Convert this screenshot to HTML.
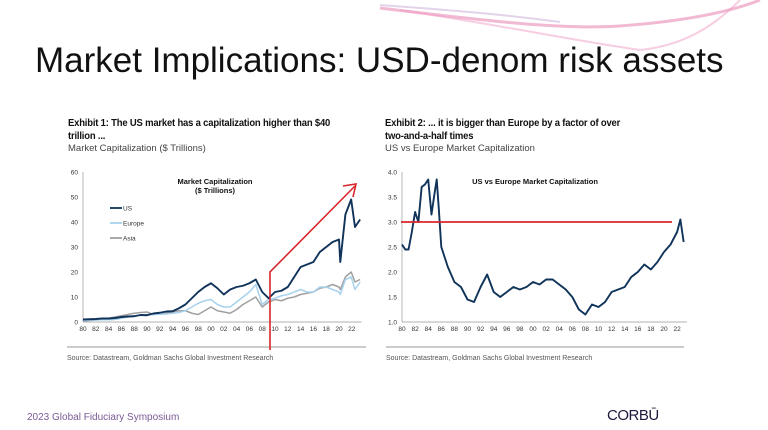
<!DOCTYPE html>
<html><head><meta charset="utf-8">
<style>
body{margin:0;width:768px;height:430px;overflow:hidden;background:#fff;font-family:"Liberation Sans",sans-serif;position:relative}
.abs{position:absolute}
.h{font-family:"Liberation Sans",sans-serif;font-weight:bold;font-size:10.5px;color:#111;line-height:13px;letter-spacing:-0.2px;white-space:nowrap;transform:scaleX(0.9);transform-origin:0 0}
.sub{font-size:9.5px;color:#444;font-family:"Liberation Sans",sans-serif}
.src{font-size:7px;color:#555;font-family:"Liberation Sans",sans-serif}
</style></head><body>
<svg class="abs" style="left:0;top:0" width="768" height="70">
<path d="M380,8 C480,20 560,30 620,26 C700,20 740,8 760,0" stroke="#e98bb6" stroke-width="3" fill="none" opacity="0.6"/>
<path d="M400,10 C500,25 570,40 640,50 C690,45 720,20 740,0" stroke="#ef9cc3" stroke-width="2" fill="none" opacity="0.5"/>
<path d="M380,5 C450,10 500,14 560,22" stroke="#c7a8d6" stroke-width="2" fill="none" opacity="0.5"/>
</svg>
<div class="abs" style="left:35px;top:41px;font-size:35px;color:#111;white-space:nowrap">Market Implications: USD-denom risk assets</div>
<div class="abs h" style="left:68px;top:117px">Exhibit 1: The US market has a capitalization higher than $40<br>trillion ...</div>
<div class="abs sub" style="left:68px;top:143px">Market Capitalization ($ Trillions)</div>
<div class="abs h" style="left:385px;top:117px">Exhibit 2: ... it is bigger than Europe by a factor of over<br>two-and-a-half times</div>
<div class="abs sub" style="left:385px;top:143px">US vs Europe Market Capitalization</div>
<div class="abs" style="left:67px;top:346px;width:299px;height:2px;background:#ccc"></div>
<div class="abs" style="left:386px;top:346px;width:298px;height:2px;background:#ccc"></div>
<div class="abs src" style="left:67px;top:355px">Source: Datastream, Goldman Sachs Global Investment Research</div>
<div class="abs src" style="left:386px;top:355px">Source: Datastream, Goldman Sachs Global Investment Research</div>
<div class="abs" style="left:27px;top:412px;font-size:10px;color:#7a5a96">2023 Global Fiduciary Symposium</div>
<div class="abs" style="left:607px;top:407px;font-size:15px;color:#1d1a3d;letter-spacing:-0.5px">CORBŪ</div>
<svg id="c1" class="abs" style="left:0;top:0" width="768" height="430"></svg>
<script>
const years=[1980,1981,1982,1983,1984,1985,1986,1987,1988,1989,1990,1991,1992,1993,1994,1995,1996,1997,1998,1999,2000,2001,2002,2003,2004,2005,2006,2007,2008,2009,2010,2011,2012,2013,2014,2015,2016,2017,2018,2019,2020,2020.2,2021,2021.9,2022.5,2023.3];
const usVals=[1,1.1,1.2,1.4,1.4,1.6,2,2.2,2.3,2.8,2.7,3.4,3.7,4.2,4.3,5.5,7,9.5,12,14,15.5,13.5,11,13,14,14.5,15.5,17,12,9.5,12,12.5,14,18,22,23,24,28,30,32,33,24,43,49,38,41];
const euVals=[0.6,0.7,0.8,0.9,0.9,1,1.5,2,2.5,2.8,3,3,3.1,3.2,3.5,3.8,4.5,6,7.5,8.5,9,7,6,6,8,10,12,15,7,9,9.5,10.5,11,12,13,12,12,14,14,13,12,11,17,18,13,16];
const asVals=[0.4,0.6,0.8,1,1.5,2,2.5,3,3.5,3.8,4,3,3.3,3.5,4,4.5,4.5,3.5,3,4.5,6,4.5,4,3.5,5,7,8.5,10,6,8,9,8.5,9.5,10,11,11.5,12,13.5,14,15,14,13,18,20,16,17];
const rYears=[1980,1980.5,1981,1981.5,1982,1982.5,1983,1983.5,1984,1984.5,1985,1985.3,1985.6,1986,1986.5,1987,1988,1989,1990,1991,1992,1993,1994,1995,1996,1997,1998,1999,2000,2001,2002,2003,2004,2005,2006,2007,2008,2009,2010,2011,2012,2013,2014,2015,2016,2017,2018,2019,2020,2021,2022,2022.5,2023];
const ratioVals=[2.55,2.45,2.45,2.8,3.2,3.0,3.7,3.75,3.85,3.15,3.6,3.85,3.3,2.5,2.3,2.1,1.8,1.7,1.45,1.4,1.7,1.95,1.6,1.5,1.6,1.7,1.65,1.7,1.8,1.75,1.85,1.85,1.75,1.65,1.5,1.25,1.15,1.35,1.3,1.4,1.6,1.65,1.7,1.9,2.0,2.15,2.05,2.2,2.4,2.55,2.8,3.05,2.6];
const xTicks=['80','82','84','86','88','90','92','94','96','98','00','02','04','06','08','10','12','14','16','18','20','22'];
const y1Ticks=[0,10,20,30,40,50,60];
const y2Ticks=[1.0,1.5,2.0,2.5,3.0,3.5,4.0];
const NS='http://www.w3.org/2000/svg';
const svg=document.getElementById('c1');
function mk(t,a,txt){const e=document.createElementNS(NS,t);for(const k in a)e.setAttribute(k,a[k]);if(txt!==undefined)e.textContent=txt;svg.appendChild(e);return e;}
function chart(x0,xPer,yTop,yBot,vmin,vmax,yt,dec){
 const X=y=>x0+(y-1980)*xPer, Y=v=>yBot-(v-vmin)/(vmax-vmin)*(yBot-yTop);
 let ax=mk('line',{x1:x0,y1:yTop,x2:x0,y2:yBot,stroke:'#999','stroke-width':0.7});
 
 let bx=mk('line',{x1:x0,y1:yBot,x2:X(2023.5),y2:yBot,stroke:'#999','stroke-width':0.7});
 
 yt.forEach(v=>{let t=mk('text',{x:x0-5,y:Y(v)+2.5,'font-size':6.5,fill:'#333','text-anchor':'end'},dec?v.toFixed(1):v);
  });
 xTicks.forEach((l,i)=>{let t=mk('text',{x:X(1980+2*i),y:yBot+9,'font-size':6.5,fill:'#333','text-anchor':'middle'},l);
  });
 return [X,Y];
}
function line(xs,vs,X,Y,c,w,name){let p=mk('polyline',{points:xs.map((y,i)=>X(y)+','+Y(vs[i])).join(' '),fill:'none',stroke:c,'stroke-width':w,'stroke-linejoin':'round'});
 }
let [X1,Y1]=chart(83,6.4,172,322,0,60,y1Ticks,false);
line(years,asVals,X1,Y1,'#a0a0a0',1.5,'series-asia');
line(years,euVals,X1,Y1,'#a8d2ee',1.5,'series-europe');
line(years,usVals,X1,Y1,'#10335a',1.9,'series-us');
let tt=mk('text',{x:215,y:184,'font-size':7.5,'font-weight':'bold','text-anchor':'middle',fill:'#111'},'Market Capitalization');

let tt2=mk('text',{x:215,y:193,'font-size':7.5,'font-weight':'bold','text-anchor':'middle',fill:'#111'},'($ Trillions)');

[['US','#10335a',208],['Europe','#a8d2ee',223],['Asia','#a0a0a0',238]].forEach(d=>{
 let l=mk('line',{x1:110,y1:d[2],x2:122,y2:d[2],stroke:d[1],'stroke-width':1.8});
 let t=mk('text',{x:123,y:d[2]+2.5,'font-size':6.5,fill:'#333'},d[0]);});
let ra=mk('polyline',{points:'270,350 270,272 355,186',fill:'none',stroke:'#d9262b','stroke-width':1.6});

let rh=mk('polyline',{points:'343,186 356,184 353,197',fill:'none',stroke:'#d9262b','stroke-width':1.6});

let [X2,Y2]=chart(402,6.55,172,322,1,4,y2Ticks,true);
line(rYears,ratioVals,X2,Y2,'#10335a',1.9,'series-ratio');
let rl=mk('line',{x1:401,y1:Y2(3),x2:672,y2:Y2(3),stroke:'#d9262b','stroke-width':1.8});

let t3=mk('text',{x:535,y:184,'font-size':7.5,'font-weight':'bold','text-anchor':'middle',fill:'#111'},'US vs Europe Market Capitalization');

</script>
</body></html>
